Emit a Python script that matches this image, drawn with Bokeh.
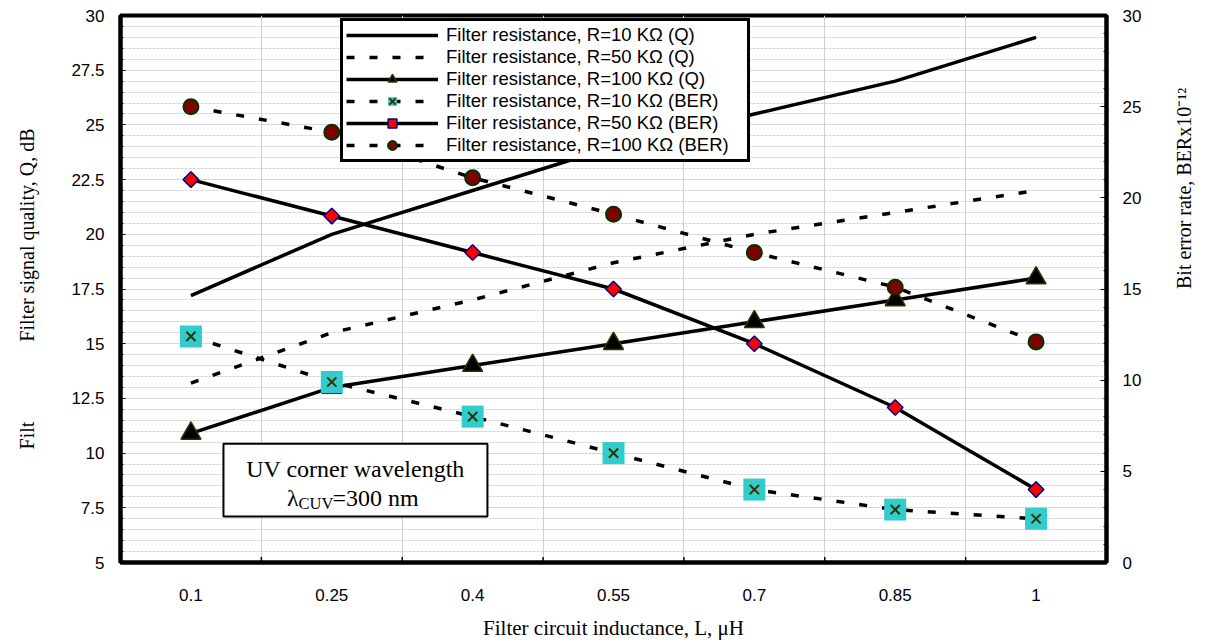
import math
from bokeh.plotting import figure
from bokeh.models import (FactorRange, Range1d, LinearAxis, FixedTicker,
                          NumeralTickFormatter, Label, Grid)
from bokeh.embed import file_html
from bokeh.resources import INLINE

# ---------------- data ----------------
inductance = ["0.1", "0.25", "0.4", "0.55", "0.7", "0.85", "1"]
q_r10 = [17.2, 20.0, 22.0, 24.0, 25.5, 27.0, 29.0]
q_r50 = [13.2, 15.5, 17.0, 18.7, 20.0, 21.0, 22.0]
q_r100 = [10.9, 13.0, 14.0, 15.0, 16.0, 17.0, 18.0]
ber_r10 = [12.4, 9.9, 8.0, 6.0, 4.0, 2.9, 2.4]
ber_r50 = [21.0, 19.0, 17.0, 15.0, 12.0, 8.5, 4.0]
ber_r100 = [25.0, 23.6, 21.1, 19.1, 17.0, 15.1, 12.1]
q_ticks = [5, 7.5, 10, 12.5, 15, 17.5, 20, 22.5, 25, 27.5, 30]
ber_ticks = [0, 5, 10, 15, 20, 25, 30]

labels = [
    "Filter resistance, R=10 K\u03a9 (Q)",
    "Filter resistance, R=50 K\u03a9 (Q)",
    "Filter resistance, R=100 K\u03a9 (Q)",
    "Filter resistance, R=10 K\u03a9 (BER)",
    "Filter resistance, R=50 K\u03a9 (BER)",
    "Filter resistance, R=100 K\u03a9 (BER)",
]

SANS = "Liberation Sans"
SERIF = "Liberation Serif"
NB = "\u00a0"

p = figure(width=1212, height=642,
           x_range=FactorRange(factors=inductance),
           y_range=Range1d(5, 30),
           output_backend="svg", toolbar_location=None,
           min_border_left=120, min_border_right=106,
           min_border_top=15, min_border_bottom=79)
p.extra_y_ranges = {"ber": Range1d(0, 30)}
p.background_fill_color = "white"
p.border_fill_color = "white"
p.outline_line_color = "black"
p.outline_line_width = 4

# grids
p.xgrid.visible = False
bounds = list(range(1, len(inductance)))
p.add_layout(Grid(dimension=0, ticker=FixedTicker(ticks=bounds),
                  grid_line_color="#cfcfcf", grid_line_width=1))
q_minor = [5 + 0.5 * i for i in range(51)]
yt = FixedTicker(ticks=q_ticks, minor_ticks=q_minor)
p.yaxis[0].ticker = yt
p.ygrid.ticker = yt
p.ygrid.grid_line_color = "#d4d4d4"
p.ygrid.grid_line_dash = "3 1"
p.ygrid.minor_grid_line_color = "#d4d4d4"
p.ygrid.minor_grid_line_dash = "3 1"

# left axis
ya = p.yaxis[0]
ya.formatter = NumeralTickFormatter(format="0.[0]")
ya.axis_line_width = 4
ya.major_tick_in = 5
ya.major_tick_out = 0
ya.minor_tick_in = 3
ya.minor_tick_out = 0
ya.major_label_standoff = 16
ya.major_label_text_font = SANS
ya.major_label_text_font_size = "17px"
ya.major_label_text_color = "black"
ya.axis_label = "Filt" + NB * 16 + "Filter signal quality, Q, dB"
ya.axis_label_text_font = SERIF
ya.axis_label_text_font_style = "normal"
ya.axis_label_text_font_size = "20px"
ya.axis_label_text_color = "black"
ya.axis_label_standoff = 30

# right axis
ra = LinearAxis(y_range_name="ber",
                ticker=FixedTicker(ticks=ber_ticks, minor_ticks=list(range(0, 31))))
ra.axis_line_width = 4
ra.major_tick_in = 6
ra.major_tick_out = 0
ra.minor_tick_in = 3
ra.minor_tick_out = 0
ra.major_label_standoff = 16
ra.major_label_text_font = SANS
ra.major_label_text_font_size = "17px"
ra.major_label_text_color = "black"
ra.axis_label = "Bit error rate,  BERx10\u207b\u00b9\u00b2"
ra.axis_label_text_font = SERIF
ra.axis_label_text_font_style = "normal"
ra.axis_label_text_font_size = "20px"
ra.axis_label_text_color = "black"
ra.axis_label_standoff = 40
if "axis_label_orientation" in ra.properties():
    ra.axis_label_orientation = math.pi / 2
p.add_layout(ra, "right")

# bottom axis
xa = p.xaxis[0]
xa.axis_line_width = 4
xa.major_tick_line_color = None
xa.major_label_standoff = 20
xa.major_label_text_font = SANS
xa.major_label_text_font_size = "17px"
xa.major_label_text_color = "black"
xa.axis_label = "Filter circuit inductance, L, \u03bcH"
xa.axis_label_text_font = SERIF
xa.axis_label_text_font_style = "normal"
xa.axis_label_text_font_size = "21px"
xa.axis_label_text_color = "black"
xa.axis_label_standoff = 12

# small boundary ticks on bottom axis
p.segment(x0=bounds, x1=bounds, y0=[5] * len(bounds), y1=[5.25] * len(bounds),
          line_color="black", line_width=1.5)

# annotation box
p.quad(left=[0.731], right=[2.605], bottom=[7.10], top=[10.43],
       fill_color="white", line_color="black", line_width=2)

# series
LW = 3.5
DASH = "8 15"
p.line(inductance, q_r10, line_color="black", line_width=LW, legend_label=labels[0])
p.line(inductance, q_r50, line_color="black", line_width=LW, line_dash=DASH,
       legend_label=labels[1])
p.line(inductance, q_r100, line_color="black", line_width=LW, legend_label=labels[2])
p.scatter(inductance, q_r100, marker="triangle", size=20, fill_color="black",
          line_color="#333300", line_width=1.5, legend_label=labels[2])

p.line(inductance, ber_r10, y_range_name="ber", line_color="black", line_width=LW,
       line_dash=DASH, legend_label=labels[3])
p.scatter(inductance, ber_r10, y_range_name="ber", marker="square", size=22,
          fill_color="#33CCCC", line_color=None, legend_label=labels[3])
p.scatter(inductance, ber_r10, y_range_name="ber", marker="x", size=13,
          line_color="#333300", line_width=2, legend_label=labels[3])

p.line(inductance, ber_r50, y_range_name="ber", line_color="black", line_width=LW,
       legend_label=labels[4])
p.scatter(inductance, ber_r50, y_range_name="ber", marker="square", size=11,
          angle=math.pi / 4, fill_color="#FF0000", line_color="#000080",
          line_width=1.5, legend_label=labels[4])

p.line(inductance, ber_r100, y_range_name="ber", line_color="black", line_width=LW,
       line_dash=DASH, legend_label=labels[5])
p.scatter(inductance, ber_r100, y_range_name="ber", marker="circle", size=15,
          fill_color="#800000", line_color="#003300", line_width=2,
          legend_label=labels[5])

# legend
lg = p.legend[0]
lg.location = (220, 400)
lg.border_line_color = "black"
lg.border_line_alpha = 1
lg.border_line_width = 3
lg.background_fill_color = "white"
lg.background_fill_alpha = 1
lg.padding = 3
lg.spacing = 0
lg.margin = 0
lg.glyph_width = 92
lg.glyph_height = 22
lg.label_height = 22
lg.label_standoff = 8
lg.label_width = 298
lg.label_text_font = SANS
lg.label_text_font_size = "18.5px"
lg.label_text_color = "black"

# box texts
p.add_layout(Label(x=1.668, y=9.29, text="UV corner wavelength", text_font=SERIF,
                   text_font_size="24px", text_align="center", text_baseline="middle",
                   text_color="black"))
p.add_layout(Label(x=1.264, y=7.97, text="\u03bb", text_font=SERIF,
                   text_font_size="24px", text_align="right", text_baseline="middle",
                   text_color="black"))
p.add_layout(Label(x=1.264, y=7.70, text="CUV", text_font=SERIF,
                   text_font_size="16.5px", text_align="left", text_baseline="middle",
                   text_color="black"))
p.add_layout(Label(x=1.505, y=7.97, text="=300 nm", text_font=SERIF,
                   text_font_size="24px", text_align="left", text_baseline="middle",
                   text_color="black"))

open("out.html", "w").write(file_html(p, INLINE))
